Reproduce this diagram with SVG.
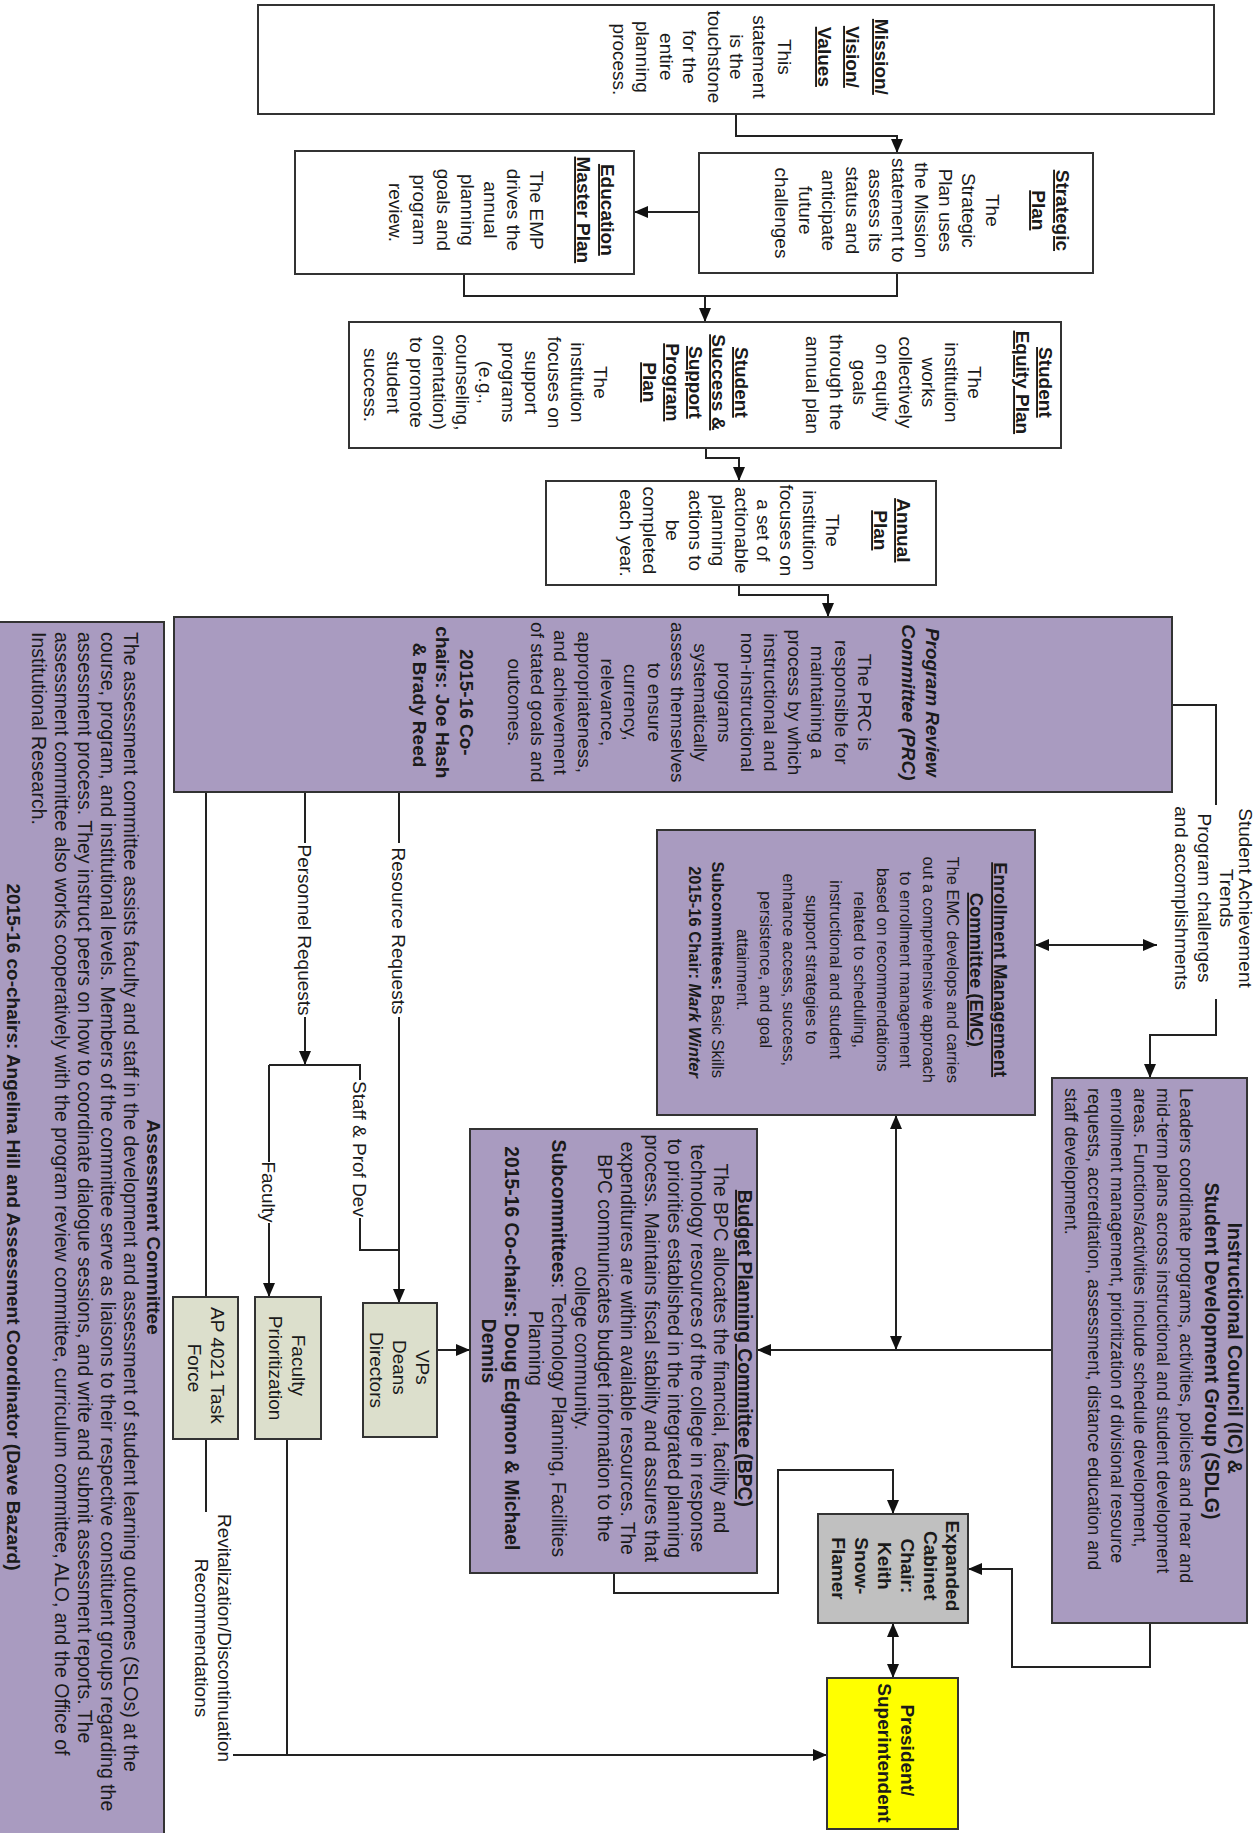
<svg xmlns="http://www.w3.org/2000/svg" width="1255" height="1833" viewBox="0 0 1255 1833">
<defs>
<style>
.box{fill:#fff;stroke:#333;stroke-width:2}
.pur{fill:#a99bc0;stroke:#333;stroke-width:2}
.lt{fill:#dcdfcc;stroke:#333;stroke-width:2}
.gr{fill:#c0c0c0;stroke:#333;stroke-width:2}
.yl{fill:#ffff00;stroke:#333;stroke-width:2}
text{font-family:"Liberation Sans",Arial,sans-serif;font-size:19px;fill:#1a1a1a}
.c{text-anchor:middle}
.b{font-weight:bold}
.u{text-decoration:underline}
.i{font-style:italic}
.ln{fill:none;stroke:#222;stroke-width:2}
.ar{marker-end:url(#a)}
.da{marker-start:url(#a);marker-end:url(#a)}
</style>
<marker id="a" markerUnits="userSpaceOnUse" markerWidth="14" markerHeight="12" refX="14" refY="6" orient="auto-start-reverse">
<path d="M0,0 L14,6 L0,12 z" fill="#111"/>
</marker>
</defs>
<rect x="0" y="0" width="1255" height="1833" fill="#fff"/>

<g id="connectors">
<path class="ln ar" d="M736,114 V136 H897 V153"/>
<path class="ln ar" d="M699,212 H634"/>
<path class="ln" d="M464,274 V296 H897 V273"/>
<path class="ln ar" d="M705,296 V322"/>
<path class="ln ar" d="M706,448 V458 H739 V481"/>
<path class="ln ar" d="M739,585 V595 H828 V617"/>
<path class="ln" d="M1172,705 H1216 V805"/>
<path class="ln ar" d="M1216,999 V1035 H1150 V1078"/>
<path class="ln da" d="M1035,945 H1157"/>
<path class="ln da" d="M896,1115 V1350"/>
<path class="ln ar" d="M1052,1350 H757"/>
<path class="ln ar" d="M437,1350 H470"/>
<path class="ln" d="M399,792 V843"/>
<path class="ln ar" d="M399,1017 V1303"/>
<path class="ln" d="M305,792 V843"/>
<path class="ln ar" d="M305,1017 V1065"/>
<path class="ln" d="M269,1065 H360 V1080"/>
<path class="ln" d="M360,1218 V1250 H399"/>
<path class="ln" d="M269,1065 V1162"/>
<path class="ln ar" d="M269,1223 V1297"/>
<path class="ln" d="M206,792 V1297"/>
<path class="ln" d="M206,1439 V1512"/>
<path class="ln ar" d="M233,1755 H827"/>
<path class="ln" d="M287,1439 V1755"/>
<path class="ln ar" d="M614,1573 V1593 H778 V1470 H893 V1514"/>
<path class="ln ar" d="M1150,1623 V1667 H1012 V1569 H968"/>
<path class="ln da" d="M893,1623 V1678"/>
</g>

<g id="labels">
<text class="c" transform="translate(1239,898) rotate(90)"><tspan x="0" y="0">Student Achievement</tspan><tspan x="0" y="19">Trends</tspan><tspan x="0" y="41">Program challenges</tspan><tspan x="0" y="64">and accomplishments</tspan></text>
<text class="c" transform="translate(392,931) rotate(90)">Resource Requests</text>
<text class="c" transform="translate(298,930) rotate(90)">Personnel Requests</text>
<text class="c" transform="translate(353,1149) rotate(90)">Staff &amp; Prof Dev</text>
<text class="c" transform="translate(262,1192) rotate(90)">Faculty</text>
<text class="c" transform="translate(218,1638) rotate(90)"><tspan x="0" y="0">Revitalization/Discontinuation</tspan><tspan x="0" y="23">Recommendations</tspan></text>
</g>

<g id="mission">
<rect class="box" x="258" y="5" width="956" height="109"/>
<text class="c" transform="translate(875,59.5) rotate(90)">
<tspan x="0" y="0" class="b u">Mission/</tspan>
<tspan x="0" y="29" class="b u">Vision/</tspan>
<tspan x="0" y="57" class="b u">Values</tspan>
<tspan x="0" y="97">This</tspan>
<tspan x="0" y="122">statement</tspan>
<tspan x="0" y="145">is the</tspan>
<tspan x="0" y="167">touchstone</tspan>
<tspan x="0" y="192">for the</tspan>
<tspan x="0" y="215">entire</tspan>
<tspan x="0" y="239">planning</tspan>
<tspan x="0" y="262">process.</tspan>
</text>
</g>

<g id="strategic">
<rect class="box" x="699" y="153" width="394" height="120"/>
<text class="c" transform="translate(1056,213) rotate(90)">
<tspan x="0" y="0" class="b u">Strategic</tspan>
<tspan x="0" y="24" class="b u">Plan</tspan>
<tspan x="0" y="70">The</tspan>
<tspan x="0" y="94">Strategic</tspan>
<tspan x="0" y="117">Plan uses</tspan>
<tspan x="0" y="141">the Mission</tspan>
<tspan x="0" y="164">statement to</tspan>
<tspan x="0" y="187">assess its</tspan>
<tspan x="0" y="210">status and</tspan>
<tspan x="0" y="234">anticipate</tspan>
<tspan x="0" y="257">future</tspan>
<tspan x="0" y="281">challenges</tspan>
</text>
</g>

<g id="emp">
<rect class="box" x="295" y="151" width="339" height="123"/>
<text class="c" transform="translate(601,212.5) rotate(90)">
<tspan x="0" y="0" class="b u">Education</tspan>
<tspan x="0" y="24" class="b u">Master Plan</tspan>
<tspan x="0" y="71">The EMP</tspan>
<tspan x="0" y="94">drives the</tspan>
<tspan x="0" y="117">annual</tspan>
<tspan x="0" y="140">planning</tspan>
<tspan x="0" y="164">goals and</tspan>
<tspan x="0" y="188">program</tspan>
<tspan x="0" y="212">review.</tspan>
</text>
</g>

<g id="equity-sssp">
<rect class="box" x="349" y="322" width="712" height="126"/>
<text class="c" transform="translate(1039,385) rotate(90)">
<tspan x="0" y="0" class="b u">Student</tspan>
<tspan x="0" y="23" class="b u">Equity Plan</tspan>
<tspan x="0" y="71">The</tspan>
<tspan x="0" y="94">institution</tspan>
<tspan x="0" y="117">works</tspan>
<tspan x="0" y="140">collectively</tspan>
<tspan x="0" y="163">on equity</tspan>
<tspan x="0" y="186">goals</tspan>
<tspan x="0" y="209">through the</tspan>
<tspan x="0" y="233">annual plan</tspan>
</text>
<text class="c" transform="translate(735,385) rotate(90)">
<tspan x="0" y="0" class="b u">Student</tspan>
<tspan x="0" y="23" class="b u">Success &amp;</tspan>
<tspan x="0" y="46" class="b u">Support</tspan>
<tspan x="0" y="69" class="b u">Program</tspan>
<tspan x="0" y="92" class="b u">Plan</tspan>
<tspan x="0" y="141">The</tspan>
<tspan x="0" y="164">institution</tspan>
<tspan x="0" y="187">focuses on</tspan>
<tspan x="0" y="210">support</tspan>
<tspan x="0" y="233">programs</tspan>
<tspan x="0" y="256">(e.g.,</tspan>
<tspan x="0" y="279">counseling,</tspan>
<tspan x="0" y="302">orientation)</tspan>
<tspan x="0" y="325">to promote</tspan>
<tspan x="0" y="348">student</tspan>
<tspan x="0" y="371">success.</tspan>
</text>
</g>

<g id="annual">
<rect class="box" x="546" y="481" width="390" height="104"/>
<text class="c" transform="translate(897,533) rotate(90)">
<tspan x="0" y="0" class="b u">Annual</tspan>
<tspan x="0" y="23" class="b u">Plan</tspan>
<tspan x="0" y="71">The</tspan>
<tspan x="0" y="94">institution</tspan>
<tspan x="0" y="117">focuses on</tspan>
<tspan x="0" y="140">a set of</tspan>
<tspan x="0" y="162">actionable</tspan>
<tspan x="0" y="185">planning</tspan>
<tspan x="0" y="208">actions to</tspan>
<tspan x="0" y="231">be</tspan>
<tspan x="0" y="254">completed</tspan>
<tspan x="0" y="277">each year.</tspan>
</text>
</g>

<g id="prc">
<rect class="pur" x="174" y="617" width="998" height="175"/>
<text class="c" transform="translate(926,705) rotate(90)">
<tspan x="0" y="0" class="b i">Program Review</tspan>
<tspan x="0" y="24" class="b i">Committee (PRC)</tspan>
<tspan x="0" y="68">The PRC is</tspan>
<tspan x="0" y="91">responsible for</tspan>
<tspan x="0" y="115">maintaining a</tspan>
<tspan x="0" y="138">process by which</tspan>
<tspan x="0" y="162">instructional and</tspan>
<tspan x="0" y="185">non-instructional</tspan>
<tspan x="0" y="208">programs</tspan>
<tspan x="0" y="232">systematically</tspan>
<tspan x="0" y="255">assess themselves</tspan>
<tspan x="0" y="278">to ensure</tspan>
<tspan x="0" y="302">currency,</tspan>
<tspan x="0" y="325">relevance,</tspan>
<tspan x="0" y="348">appropriateness,</tspan>
<tspan x="0" y="372">and achievement</tspan>
<tspan x="0" y="395">of stated goals and</tspan>
<tspan x="0" y="418">outcomes.</tspan>
<tspan x="0" y="466" class="b">2015-16 Co-</tspan>
<tspan x="0" y="490" class="b">chairs:  Joe Hash</tspan>
<tspan x="0" y="513" class="b">&amp; Brady Reed</tspan>
</text>
</g>

<g id="emc">
<rect class="pur" x="657" y="830" width="378" height="285"/>
<text class="c" transform="translate(994,972) rotate(90)" style="font-size:16.5px">
<tspan x="0" y="0" class="b u" style="font-size:18.5px">Enrollment Management</tspan>
<tspan x="0" y="24" class="b u" style="font-size:18.5px">Committee (EMC)</tspan>
<tspan x="0" y="47">The EMC develops and carries</tspan>
<tspan x="0" y="71">out a comprehensive approach</tspan>
<tspan x="0" y="94">to enrollment management</tspan>
<tspan x="0" y="117">based on recommendations</tspan>
<tspan x="0" y="140">related to scheduling,</tspan>
<tspan x="0" y="164">instructional and student</tspan>
<tspan x="0" y="188">support strategies to</tspan>
<tspan x="0" y="211">enhance access, success,</tspan>
<tspan x="0" y="234">persistence, and goal</tspan>
<tspan x="0" y="257">attainment.</tspan>
<tspan x="0" y="282"><tspan class="b">Subcommittees:</tspan> Basic Skills</tspan>
<tspan x="0" y="305" class="b">2015-16 Chair: <tspan class="i">Mark Winter</tspan></tspan>
</text>
</g>

<g id="ic">
<rect class="pur" x="1052" y="1078" width="195" height="545"/>
<text class="c b" transform="translate(1228,1351) rotate(90)" style="font-size:19.5px">
<tspan x="0" y="0">Instructional Council (IC) &amp;</tspan>
<tspan x="0" y="23">Student Development Group (SDLG)</tspan>
</text>
<text transform="translate(1180,1088) rotate(90)" style="font-size:18px">
<tspan x="0" y="0">Leaders coordinate programs, activities, policies and near and</tspan>
<tspan x="0" y="23">mid-term plans across instructional and student development</tspan>
<tspan x="0" y="46">areas. Functions/activities include schedule development,</tspan>
<tspan x="0" y="69">enrollment management, prioritization of divisional resource</tspan>
<tspan x="0" y="92">requests, accreditation, assessment, distance education and</tspan>
<tspan x="0" y="115">staff development.</tspan>
</text>
</g>

<g id="bpc">
<rect class="pur" x="470" y="1129" width="287" height="444"/>
<text class="c" transform="translate(738,1351) rotate(90)" style="font-size:19.3px">
<tspan x="0" y="0" class="b u">Budget Planning Committee (BPC)</tspan>
<tspan x="0" y="24">The BPC  allocates the financial, facility and</tspan>
<tspan x="0" y="47">technology resources of the college in response</tspan>
<tspan x="0" y="70">to priorities established in the integrated planning</tspan>
<tspan x="0" y="93">process. Maintains fiscal stability and assures that</tspan>
<tspan x="0" y="117">expenditures are within available resources. The</tspan>
<tspan x="0" y="140">BPC communicates budget information to the</tspan>
<tspan x="0" y="163">college community.</tspan>
<tspan x="0" y="186"><tspan class="b">Subcommittees</tspan>: Technology Planning, Facilities</tspan>
<tspan x="0" y="209">Planning</tspan>
<tspan x="0" y="233" class="b">2015-16 Co-chairs: Doug Edgmon &amp; Michael</tspan>
<tspan x="0" y="256" class="b">Dennis</tspan>
</text>
</g>

<g id="vps">
<rect class="lt" x="363" y="1303" width="74" height="134"/>
<text class="c" transform="translate(416,1370) rotate(90)">
<tspan x="0" y="0">VPs</tspan>
<tspan x="0" y="23">Deans</tspan>
<tspan x="0" y="46">Directors</tspan>
</text>
</g>

<g id="faculty-prioritization">
<rect class="lt" x="255" y="1297" width="66" height="142"/>
<text class="c" transform="translate(292,1368) rotate(90)">
<tspan x="0" y="0">Faculty</tspan>
<tspan x="0" y="23">Prioritization</tspan>
</text>
</g>

<g id="ap4021">
<rect class="lt" x="173" y="1297" width="65" height="142"/>
<text class="c" transform="translate(211,1368) rotate(90)">
<tspan x="0" y="0">AP 4021 Task</tspan>
<tspan x="0" y="23">Force</tspan>
</text>
</g>

<g id="expanded-cabinet">
<rect class="gr" x="818" y="1514" width="150" height="109"/>
<text class="c b" transform="translate(946,1568.5) rotate(90)">
<tspan x="0" y="0">Expanded</tspan>
<tspan x="0" y="22">Cabinet</tspan>
<tspan x="0" y="45">Chair:</tspan>
<tspan x="0" y="68">Keith</tspan>
<tspan x="0" y="91">Snow-</tspan>
<tspan x="0" y="114">Flamer</tspan>
</text>
</g>

<g id="president">
<rect class="yl" x="827" y="1678" width="131" height="151"/>
<text class="c b" transform="translate(901,1753) rotate(90)">
<tspan x="0" y="0">President/</tspan>
<tspan x="0" y="23">Superintendent</tspan>
</text>
</g>

<g id="assessment">
<rect class="pur" x="-2" y="622" width="166" height="1215"/>
<text class="c b" transform="translate(147,1227) rotate(90)">Assessment Committee</text>
<text transform="translate(124,632) rotate(90)" style="font-size:19.5px">
<tspan x="0" y="0">The assessment committee assists faculty and staff in the development and assessment of student learning outcomes (SLOs) at the</tspan>
<tspan x="0" y="23">course, program, and institutional levels. Members of the committee serve as liaisons to their respective constituent groups regarding the</tspan>
<tspan x="0" y="46">assessment process. They instruct peers on how to coordinate dialogue sessions, and write and submit assessment reports. The</tspan>
<tspan x="0" y="69">assessment committee also works cooperatively with the program review committee, curriculum committee, ALO, and the Office of</tspan>
<tspan x="0" y="92">Institutional Research.</tspan>
</text>
<text class="c b" transform="translate(7,1227) rotate(90)">2015-16 co-chairs: Angelina Hill and Assessment Coordinator (Dave Bazard)</text>
</g>
</svg>
